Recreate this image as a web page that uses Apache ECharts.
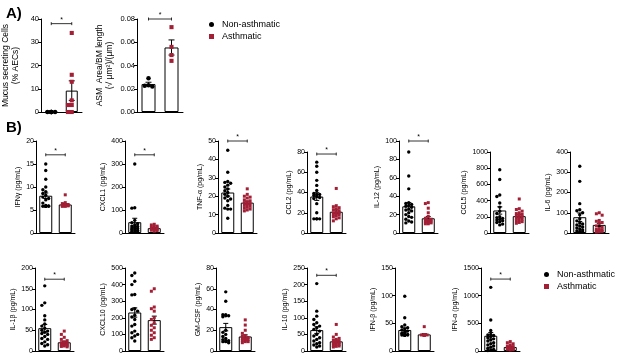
<!DOCTYPE html>
<html>
<head>
<meta charset="utf-8">
<script src="https://cdn.jsdelivr.net/npm/echarts@6/dist/echarts.min.js"></script>
<style>
html, body { margin: 0; padding: 0; background: #fff; }
#chart { width: 617px; height: 355px; }
</style>
</head>
<body>
<div id="chart"></div>
<script>
var groups = ["Non-asthmatic", "Asthmatic"];

// A) histology
var mucusNon = [0, 0, 0, 0, 0, 0];
var mucusAsth = [34, 16, 13, 5, 3, 3, 0, 0];
var mucusMean = [0, 9.2];
var mucusSem = [0, 4.2];

var asmNon = [0.029, 0.023, 0.0225, 0.022];
var asmAsth = [0.073, 0.056, 0.049, 0.044];
var asmMean = [0.024, 0.0555];
var asmSem = [0.0016, 0.0065];

// B) cytokines (pg/mL)
var ifngNon = [15, 13.6, 11.7, 10, 9.4, 9, 8.6, 8.2, 7.8, 7.5, 7.2, 6.5, 6, 5.9, 5.8, 5.8, 5.8, 5.8, 5.8, 5.8];
var ifngAsth = [8.3, 6.6, 6.4, 6.2, 6.1, 6.0, 6.0, 5.9, 5.9, 5.9, 5.8, 5.8];
var ifngMean = [8.1, 6.2];
var ifngSem = [0.6, 0.2];

var cxcl1Non = [300, 110, 108, 55, 45, 40, 35, 30, 28, 25, 22, 20, 18, 15, 12, 10, 8, 5];
var cxcl1Asth = [38, 35, 30, 28, 25, 22, 20, 18, 16, 15, 12, 10, 8];
var cxcl1Mean = [47, 21];
var cxcl1Sem = [17, 3];

var tnfaNon = [45, 33, 28, 27.5, 27, 26, 25, 24, 23, 22, 21, 20, 19, 18.5, 17.5, 15, 13.5, 13, 13, 8];
var tnfaAsth = [24, 21, 20, 19.5, 19, 18, 17.5, 17, 16.5, 16, 15.5, 15, 14.5, 14, 13.5, 13, 12.5, 12];
var tnfaMean = [22, 16.5];
var tnfaSem = [1.9, 0.8];

var ccl2Non = [70, 66, 60, 52, 47, 42, 38, 39, 38, 37, 36, 35, 34, 29, 20, 14, 14, 14, 14];
var ccl2Asth = [44, 27, 26, 25, 24, 23, 22, 21, 20, 20, 19, 18, 18, 17, 16, 15, 14, 12];
var ccl2Mean = [36, 21];
var ccl2Sem = [3.8, 1.8];

var il12Non = [88, 62, 48, 33, 32, 31, 30, 29, 28, 26, 25, 24, 22, 20, 18, 17, 15, 13, 12, 11];
var il12Asth = [33, 32, 27, 22, 18, 16, 15, 14, 14, 13, 13, 12, 12, 11, 11, 10, 10];
var il12Mean = [29, 16];
var il12Sem = [4, 1.8];

var ccl5Non = [780, 660, 470, 450, 370, 320, 270, 240, 200, 190, 180, 170, 160, 150, 140, 130, 110, 100];
var ccl5Asth = [420, 300, 290, 270, 250, 240, 230, 220, 210, 200, 190, 180, 170, 160, 150, 140, 130, 120];
var ccl5Mean = [278, 208];
var ccl5Sem = [45, 18];

var il6Non = [330, 255, 145, 115, 110, 100, 90, 70, 60, 50, 45, 40, 35, 30, 25, 20, 15, 10, 8, 5];
var il6Asth = [100, 95, 88, 62, 58, 52, 48, 35, 28, 22, 18, 15, 12, 10, 8, 6, 5];
var il6Mean = [78, 40];
var il6Sem = [21, 8];

var il1bNon = [157, 116, 110, 85, 75, 65, 60, 55, 50, 48, 45, 42, 40, 35, 30, 28, 22, 18, 15, 12];
var il1bAsth = [48, 40, 33, 28, 25, 22, 20, 19, 18, 17, 16, 15, 14, 13, 12, 11, 10];
var il1bMean = [55, 21];
var il1bSem = [9, 2.5];

var cxcl10Non = [470, 455, 420, 400, 340, 338, 250, 255, 240, 215, 205, 190, 160, 150, 120, 110, 100, 90, 80, 60];
var cxcl10Asth = [375, 360, 265, 255, 240, 200, 190, 170, 155, 140, 125, 110, 95, 80, 70];
var cxcl10Mean = [232, 186];
var cxcl10Sem = [28, 24];

var gmcsfNon = [57, 48, 35, 35, 34, 34, 33, 20, 18, 16, 14, 12, 11, 10, 10, 9, 9, 8];
var gmcsfAsth = [30, 25, 20, 17, 15, 14, 13, 12, 12, 11, 11, 10, 10, 9, 9, 8];
var gmcsfMean = [23, 14];
var gmcsfSem = [3.6, 1.5];

var il10Non = [203, 120, 105, 95, 85, 80, 75, 70, 65, 60, 50, 45, 40, 35, 30, 25, 22, 18, 15, 12];
var il10Asth = [80, 50, 42, 38, 35, 32, 30, 28, 26, 25, 24, 22, 20, 18, 16, 15, 14, 12];
var il10Mean = [63, 29];
var il10Sem = [10, 4];

var ifnbNon = [99, 60, 47, 44, 42, 40, 38, 36, 34, 32, 30, 29, 29, 29, 29, 29, 29, 29, 29, 29];
var ifnbAsth = [44, 29, 29, 29, 29, 29, 29, 29, 29, 29];
var ifnbMean = [38, 30];
var ifnbSem = [3.7, 1.5];

var ifnaNon = [1150, 560, 370, 300, 290, 280, 260, 240, 220, 200, 180, 150, 130, 110, 90, 70, 50, 30, 20, 10];
var ifnaAsth = [170, 150, 130, 110, 90, 80, 70, 60, 55, 50, 45, 40, 35, 30, 25, 20];
var ifnaMean = [275, 72];
var ifnaSem = [60, 12];

// axis titles, ranges and significance bracket level (null = none)
var panels = [
    { name: "Mucus secreting Cells\n(% AECs)", max: 40, interval: 10, non: mucusNon, asth: mucusAsth, mean: mucusMean, sem: mucusSem, sig: 38 },
    { name: "ASM  Area/BM length\n(√ μm²)/(μm)", max: 0.08, interval: 0.02, non: asmNon, asth: asmAsth, mean: asmMean, sem: asmSem, sig: 0.08, dec: 2 },
    { name: "IFNγ (pg/mL)", max: 20, interval: 5, non: ifngNon, asth: ifngAsth, mean: ifngMean, sem: ifngSem, sig: 17 },
    { name: "CXCL1 (pg/mL)", max: 400, interval: 100, non: cxcl1Non, asth: cxcl1Asth, mean: cxcl1Mean, sem: cxcl1Sem, sig: 340 },
    { name: "TNF-α (pg/mL)", max: 50, interval: 10, non: tnfaNon, asth: tnfaAsth, mean: tnfaMean, sem: tnfaSem, sig: 50 },
    { name: "CCL2 (pg/mL)", max: 80, interval: 20, non: ccl2Non, asth: ccl2Asth, mean: ccl2Mean, sem: ccl2Sem, sig: 78 },
    { name: "IL-12 (pg/mL)", max: 100, interval: 20, non: il12Non, asth: il12Asth, mean: il12Mean, sem: il12Sem, sig: 100 },
    { name: "CCL5 (pg/mL)", max: 1000, interval: 200, non: ccl5Non, asth: ccl5Asth, mean: ccl5Mean, sem: ccl5Sem, sig: null },
    { name: "IL-6 (pg/mL)", max: 400, interval: 100, non: il6Non, asth: il6Asth, mean: il6Mean, sem: il6Sem, sig: null },
    { name: "IL-1β (pg/mL)", max: 200, interval: 50, non: il1bNon, asth: il1bAsth, mean: il1bMean, sem: il1bSem, sig: 173 },
    { name: "CXCL10 (pg/mL)", max: 500, interval: 100, non: cxcl10Non, asth: cxcl10Asth, mean: cxcl10Mean, sem: cxcl10Sem, sig: null },
    { name: "GM-CSF (pg/mL)", max: 80, interval: 20, non: gmcsfNon, asth: gmcsfAsth, mean: gmcsfMean, sem: gmcsfSem, sig: null },
    { name: "IL-10 (pg/mL)", max: 250, interval: 50, non: il10Non, asth: il10Asth, mean: il10Mean, sem: il10Sem, sig: 228 },
    { name: "IFN-β (pg/mL)", max: 150, interval: 50, non: ifnbNon, asth: ifnbAsth, mean: ifnbMean, sem: ifnbSem, sig: null },
    { name: "IFN-α (pg/mL)", max: 1500, interval: 500, non: ifnaNon, asth: ifnaAsth, mean: ifnaMean, sem: ifnaSem, sig: 1300 }
];

// where each small plot sits on the page
var layout = [
    { left: 41, top: 19, width: 41, height: 93, gap: 20, big: true },
    { left: 137, top: 19, width: 46, height: 93, gap: 22, big: true },
    { left: 36, top: 141, width: 39, height: 92, gap: 14 },
    { left: 125, top: 141, width: 39, height: 92, gap: 18 },
    { left: 218, top: 141, width: 39, height: 92, gap: 14 },
    { left: 307, top: 152, width: 39, height: 81, gap: 14 },
    { left: 399, top: 141, width: 39, height: 92, gap: 18 },
    { left: 490, top: 152, width: 39, height: 81, gap: 21 },
    { left: 570, top: 152, width: 39, height: 81, gap: 18 },
    { left: 35, top: 268, width: 39, height: 83, gap: 17 },
    { left: 125, top: 268, width: 39, height: 83, gap: 17 },
    { left: 216, top: 268, width: 39, height: 83, gap: 14 },
    { left: 307, top: 268, width: 39, height: 83, gap: 17 },
    { left: 395, top: 268, width: 39, height: 83, gap: 17 },
    { left: 481, top: 268, width: 39, height: 83, gap: 22 }
];

var FONT = "Liberation Sans, Arial, sans-serif";
var RED = "#a31f35";

// spread overlapping dots sideways (simple beeswarm, pixel units)
function swarm(vals, max, h, d, half) {
    var pts = vals.map(function(v, i) { return { i: i, y: v / max * h }; });
    pts.sort(function(a, b) { return b.y - a.y; });
    var step = d * 0.85;
    var steps = [0];
    for (var k = 1; k * step <= half; k++) steps.push(-k * step, k * step);
    var placed = [];
    var dx = [];
    pts.forEach(function(p) {
        var best = 0, bestD = -1;
        for (var s = 0; s < steps.length; s++) {
            var md = Infinity;
            for (var q = 0; q < placed.length; q++) {
                var dd = Math.sqrt(Math.pow(placed[q].x - steps[s], 2) + Math.pow(placed[q].y - p.y, 2));
                if (dd < md) md = dd;
            }
            if (md >= d) { best = steps[s]; break; }
            if (md > bestD) { bestD = md; best = steps[s]; }
        }
        placed.push({ x: best, y: p.y });
        dx[p.i] = best;
    });
    return dx;
}

function errorBar(params, api) {
    var s = api.value(2);
    if (!s) return;
    var x = api.value(0), m = api.value(1);
    var hi = api.coord([x, m + s]);
    var lo = api.coord([x, m - s]);
    var cw = params.context.cw || 2.5;
    var st = { stroke: "#000", lineWidth: 1 };
    return {
        type: "group",
        children: [
            { type: "line", shape: { x1: hi[0], y1: hi[1], x2: lo[0], y2: lo[1] }, style: st },
            { type: "line", shape: { x1: hi[0] - cw, y1: hi[1], x2: hi[0] + cw, y2: hi[1] }, style: st },
            { type: "line", shape: { x1: lo[0] - cw, y1: lo[1], x2: lo[0] + cw, y2: lo[1] }, style: st }
        ]
    };
}

function bracket(params, api) {
    var lvl = api.value(1);
    var a = api.coord([0, lvl]);
    var b = api.coord([1, lvl]);
    var st = { stroke: "#000", lineWidth: 0.8 };
    return {
        type: "group",
        children: [
            { type: "line", shape: { x1: a[0], y1: a[1], x2: b[0], y2: b[1] }, style: st },
            { type: "line", shape: { x1: a[0], y1: a[1] - 1.5, x2: a[0], y2: a[1] + 1.5 }, style: st },
            { type: "line", shape: { x1: b[0], y1: b[1] - 1.5, x2: b[0], y2: b[1] + 1.5 }, style: st },
            { type: "text", style: { text: "*", x: (a[0] + b[0]) / 2, y: a[1] - 0.5, align: "center", verticalAlign: "bottom", fontSize: 7, fontFamily: FONT, fill: "#000" } }
        ]
    };
}

var grids = [], xAxes = [], yAxes = [], series = [];

panels.forEach(function(p, i) {
    var L = layout[i];
    var big = !!L.big;
    grids.push({ left: L.left, top: L.top, width: L.width, height: L.height });
    xAxes.push({
        type: "category", gridIndex: i, data: groups,
        axisLine: { lineStyle: { color: "#000", width: 1 } },
        axisTick: { show: false }, axisLabel: { show: false }
    });
    yAxes.push({
        type: "value", gridIndex: i, min: 0, max: p.max, interval: p.interval,
        name: p.name, nameLocation: "middle", nameGap: L.gap,
        nameTextStyle: { fontSize: big ? 8.5 : 7, color: "#000", fontFamily: FONT, lineHeight: big ? 10 : 8 },
        axisLine: { show: true, lineStyle: { color: "#000", width: 1 } },
        axisTick: { show: true, length: 3, lineStyle: { color: "#000" } },
        axisLabel: {
            fontSize: big ? 7.5 : 7, color: "#000", margin: 2, fontFamily: FONT,
            formatter: function(v) { return p.dec ? v.toFixed(p.dec) : String(v); }
        },
        splitLine: { show: false }
    });
    var barW = big ? (i === 0 ? 12 : 14) : 13;
    var d = big ? 4.5 : 3.4;
    series.push({
        type: "bar", name: "mean", xAxisIndex: i, yAxisIndex: i, data: p.mean,
        barWidth: barW, silent: true, z: 1,
        itemStyle: { color: "#fff", borderColor: "#000", borderWidth: 1 }
    });
    series.push({
        type: "custom", xAxisIndex: i, yAxisIndex: i, z: 2, silent: true,
        renderItem: function(params, api) { params.context.cw = big ? 3 : 2.5; return errorBar(params, api); },
        encode: { x: 0, y: 1 },
        data: p.mean.map(function(m, g) { return [g, m, p.sem[g]]; })
    });
    [p.non, p.asth].forEach(function(vals, g) {
        var dx = swarm(vals, p.max, L.height, d, barW / 2 - 1);
        series.push({
            type: "scatter", name: groups[g], xAxisIndex: i, yAxisIndex: i, z: 3,
            symbol: g === 0 ? "circle" : "rect", symbolSize: g === 0 ? d : d - 0.4,
            itemStyle: { color: g === 0 ? "#000" : RED, opacity: 1 },
            data: vals.map(function(v, k) { return { value: [g, v], symbolOffset: [dx[k], 0] }; })
        });
    });
    if (p.sig != null) {
        series.push({
            type: "custom", xAxisIndex: i, yAxisIndex: i, z: 4, silent: true,
            renderItem: bracket, encode: { x: 0, y: 1 },
            data: [[0, p.sig]]
        });
    }
});

var legendBase = {
    orient: "vertical", itemWidth: 5, itemHeight: 5, itemGap: 3, selectedMode: false,
    textStyle: { fontSize: 9, color: "#000", fontFamily: FONT, padding: [0, 0, 0, 3] },
    data: [{ name: "Non-asthmatic", icon: "circle" }, { name: "Asthmatic", icon: "rect" }]
};

var myChart = echarts.init(document.getElementById("chart"), null, { renderer: "canvas" });
myChart.setOption({
    backgroundColor: "#fff",
    animation: false,
    title: [
        { text: "A)", left: 1, top: 1, textStyle: { fontSize: 15, fontWeight: "bold", color: "#000", fontFamily: FONT } },
        { text: "B)", left: 1, top: 115, textStyle: { fontSize: 15, fontWeight: "bold", color: "#000", fontFamily: FONT } }
    ],
    legend: [
        Object.assign({}, legendBase, { left: 204, top: 15 }),
        Object.assign({}, legendBase, { left: 539, top: 265 })
    ],
    grid: grids,
    xAxis: xAxes,
    yAxis: yAxes,
    series: series
});
</script>
</body>
</html>
